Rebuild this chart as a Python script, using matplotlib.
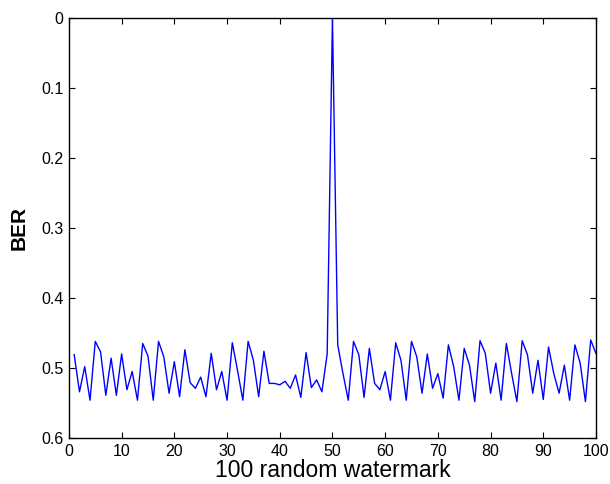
import numpy as np
import matplotlib
matplotlib.use("Agg")
import matplotlib.pyplot as plt

plt.rcParams["font.family"] = ["Liberation Sans", "DejaVu Sans"]

# watermark index 1..100, BER
watermark_idx = np.arange(1, 101)
ber = [
    0.481, 0.534, 0.498, 0.546, 0.462, 0.477, 0.539, 0.486, 0.539, 0.480,
    0.531, 0.505, 0.546, 0.465, 0.483, 0.546, 0.462, 0.484, 0.536, 0.491,
    0.541, 0.474, 0.521, 0.529, 0.513, 0.541, 0.479, 0.531, 0.505, 0.546,
    0.464, 0.504, 0.546, 0.462, 0.489, 0.541, 0.476, 0.522, 0.522, 0.524,
    0.519, 0.529, 0.510, 0.542, 0.478, 0.528, 0.517, 0.534, 0.480, 0.000,
    0.467, 0.508, 0.546, 0.462, 0.481, 0.542, 0.472, 0.522, 0.531, 0.505,
    0.546, 0.464, 0.489, 0.546, 0.462, 0.484, 0.536, 0.480, 0.529, 0.508,
    0.543, 0.467, 0.498, 0.546, 0.472, 0.496, 0.548, 0.461, 0.479, 0.536,
    0.493, 0.546, 0.465, 0.508, 0.548, 0.461, 0.481, 0.536, 0.489, 0.545,
    0.470, 0.508, 0.536, 0.496, 0.546, 0.467, 0.493, 0.548, 0.460, 0.479,
]
x_ticks = list(range(0, 101, 10))
y_ticks = [0, 0.1, 0.2, 0.3, 0.4, 0.5, 0.6]
y_ticklabels = ["0", "0.1", "0.2", "0.3", "0.4", "0.5", "0.6"]

fig = plt.figure(figsize=(6.1, 4.84), dpi=100)
ax = fig.add_axes([0.113, 0.095, 0.864, 0.868])
ax.plot(watermark_idx, ber, color="#0000ff", linewidth=1.0)

ax.set_xlim(0, 100)
ax.set_ylim(0.6, 0)
ax.set_xticks(x_ticks)
ax.set_yticks(y_ticks)
ax.set_yticklabels(y_ticklabels)
ax.tick_params(direction="in", top=True, right=True, length=4,
               labelsize=11.5, pad=4)
for spine in ax.spines.values():
    spine.set_linewidth(1.0)

ax.set_xlabel("100 random watermark", fontsize=16.5, labelpad=0)
ax.set_ylabel("BER", fontsize=15, fontweight="bold", labelpad=9)

fig.savefig("out.png", dpi=100)
